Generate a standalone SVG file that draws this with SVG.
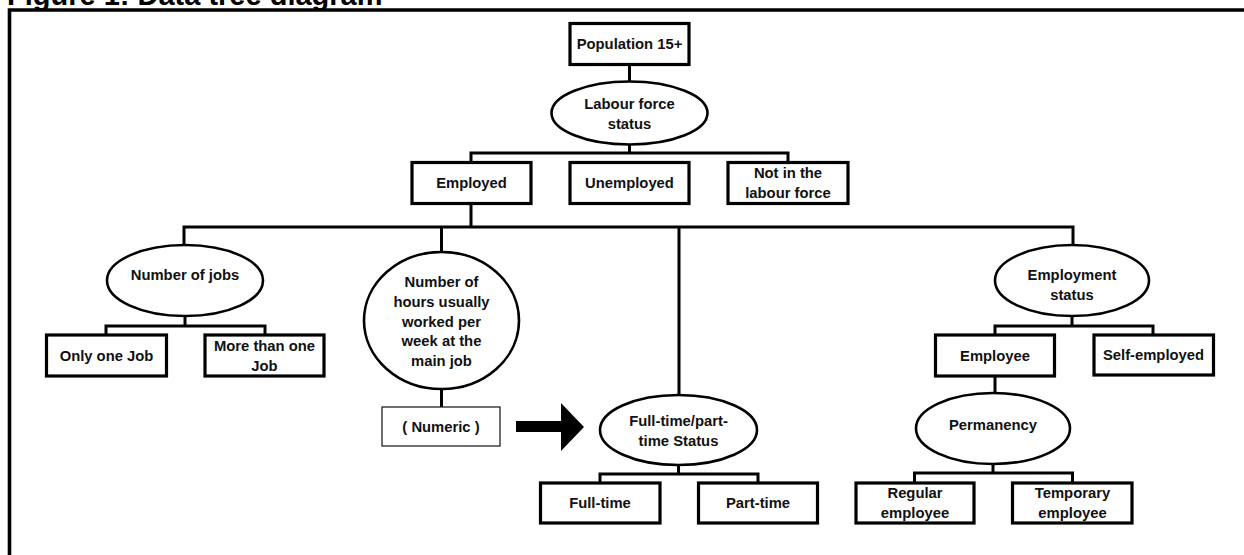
<svg xmlns="http://www.w3.org/2000/svg" width="1244" height="555" viewBox="0 0 1244 555">
<style>
.box{fill:#fff;stroke:#000;stroke-width:3.2}
.thin{fill:#fff;stroke:#222;stroke-width:1.3}
.ell{fill:#fff;stroke:#000;stroke-width:2.6}
.ln{fill:none;stroke:#000;stroke-width:3}
text{font-family:"Liberation Sans",Arial,sans-serif;font-weight:bold;font-size:14.8px;fill:#111;text-anchor:middle}
.title{font-size:29px;text-anchor:start;fill:#000}
</style>
<rect width="1244" height="555" fill="#fff"/>
<text class="title" x="7" y="5">Figure 1: Data tree diagram</text>
<path d="M9.5 555 V10 H1244" fill="none" stroke="#000" stroke-width="3.6"/>

<g id="connectors">
<path class="ln" d="M629.5 64.5 V82"/>
<path class="ln" d="M629.5 144.5 V153 M471 162.5 V153 H788 V162.5"/>
<path class="ln" d="M471 203.5 V227 M184 245 V227 H1073 V245 M441.5 227 V252 M679 227 V395"/>
<path class="ln" d="M185 316 V326 M106 335 V326 H265 V335"/>
<path class="ln" d="M441.5 389 V407"/>
<path class="ln" d="M678.5 465 V474 M600 483 V474 H758 V483"/>
<path class="ln" d="M1072 316 V326 M995 335 V326 H1153 V335"/>
<path class="ln" d="M995 376 V393"/>
<path class="ln" d="M993 464 V473 M914.5 483 V473 H1072.5 V483"/>
<path d="M516 421 H561 V403 L584 427 L561 451 V432 H516 Z" fill="#000"/>
</g>

<g id="population"><rect class="box" x="570" y="23.5" width="119" height="41"/><text x="629.5" y="49">Population 15+</text></g>
<g id="labour-force-status"><ellipse class="ell" cx="629.5" cy="113" rx="78" ry="31.5"/><text x="629.5" y="109">Labour force</text><text x="629.5" y="129">status</text></g>
<g id="employed"><rect class="box" x="412" y="162.5" width="119" height="41"/><text x="471.5" y="188">Employed</text></g>
<g id="unemployed"><rect class="box" x="570" y="162.5" width="119" height="41"/><text x="629.5" y="188">Unemployed</text></g>
<g id="not-in-labour-force"><rect class="box" x="728" y="162.5" width="120" height="41"/><text x="788" y="178">Not in the</text><text x="788" y="198">labour force</text></g>

<g id="number-of-jobs"><ellipse class="ell" cx="185" cy="280.5" rx="78" ry="35.5"/><text x="185" y="280">Number of jobs</text></g>
<g id="only-one-job"><rect class="box" x="46.5" y="335" width="120" height="41"/><text x="106.5" y="360.5">Only one Job</text></g>
<g id="more-than-one-job"><rect class="box" x="205" y="335" width="119" height="41"/><text x="264.5" y="351">More than one</text><text x="264.5" y="371">Job</text></g>

<g id="hours-worked"><ellipse class="ell" cx="441.5" cy="320.5" rx="77.5" ry="68.5"/>
<text x="441.5" y="287">Number of</text><text x="441.5" y="307">hours usually</text><text x="441.5" y="327">worked per</text><text x="441.5" y="346">week at the</text><text x="441.5" y="366">main job</text></g>
<g id="numeric"><rect class="thin" x="382" y="407" width="118" height="39"/><text x="441" y="431.5">( Numeric )</text></g>

<g id="full-part-time-status"><ellipse class="ell" cx="678.5" cy="430" rx="78.5" ry="35"/><text x="678.5" y="426">Full-time/part-</text><text x="678.5" y="446">time Status</text></g>
<g id="full-time"><rect class="box" x="540.5" y="483" width="119.5" height="40"/><text x="600" y="508">Full-time</text></g>
<g id="part-time"><rect class="box" x="698.5" y="483" width="119" height="40"/><text x="758" y="508">Part-time</text></g>

<g id="employment-status"><ellipse class="ell" cx="1072" cy="280.5" rx="77" ry="35.5"/><text x="1072" y="280">Employment</text><text x="1072" y="300">status</text></g>
<g id="employee"><rect class="box" x="935.5" y="335" width="119" height="41"/><text x="995" y="360.5">Employee</text></g>
<g id="self-employed"><rect class="box" x="1094" y="335" width="119.5" height="40"/><text x="1153.5" y="360">Self-employed</text></g>
<g id="permanency"><ellipse class="ell" cx="993" cy="428.5" rx="77" ry="35.5"/><text x="993" y="430">Permanency</text></g>
<g id="regular-employee"><rect class="box" x="856" y="483" width="118" height="40"/><text x="915" y="498">Regular</text><text x="915" y="518">employee</text></g>
<g id="temporary-employee"><rect class="box" x="1012.5" y="483" width="119.5" height="40"/><text x="1072.5" y="498">Temporary</text><text x="1072.5" y="518">employee</text></g>
</svg>
